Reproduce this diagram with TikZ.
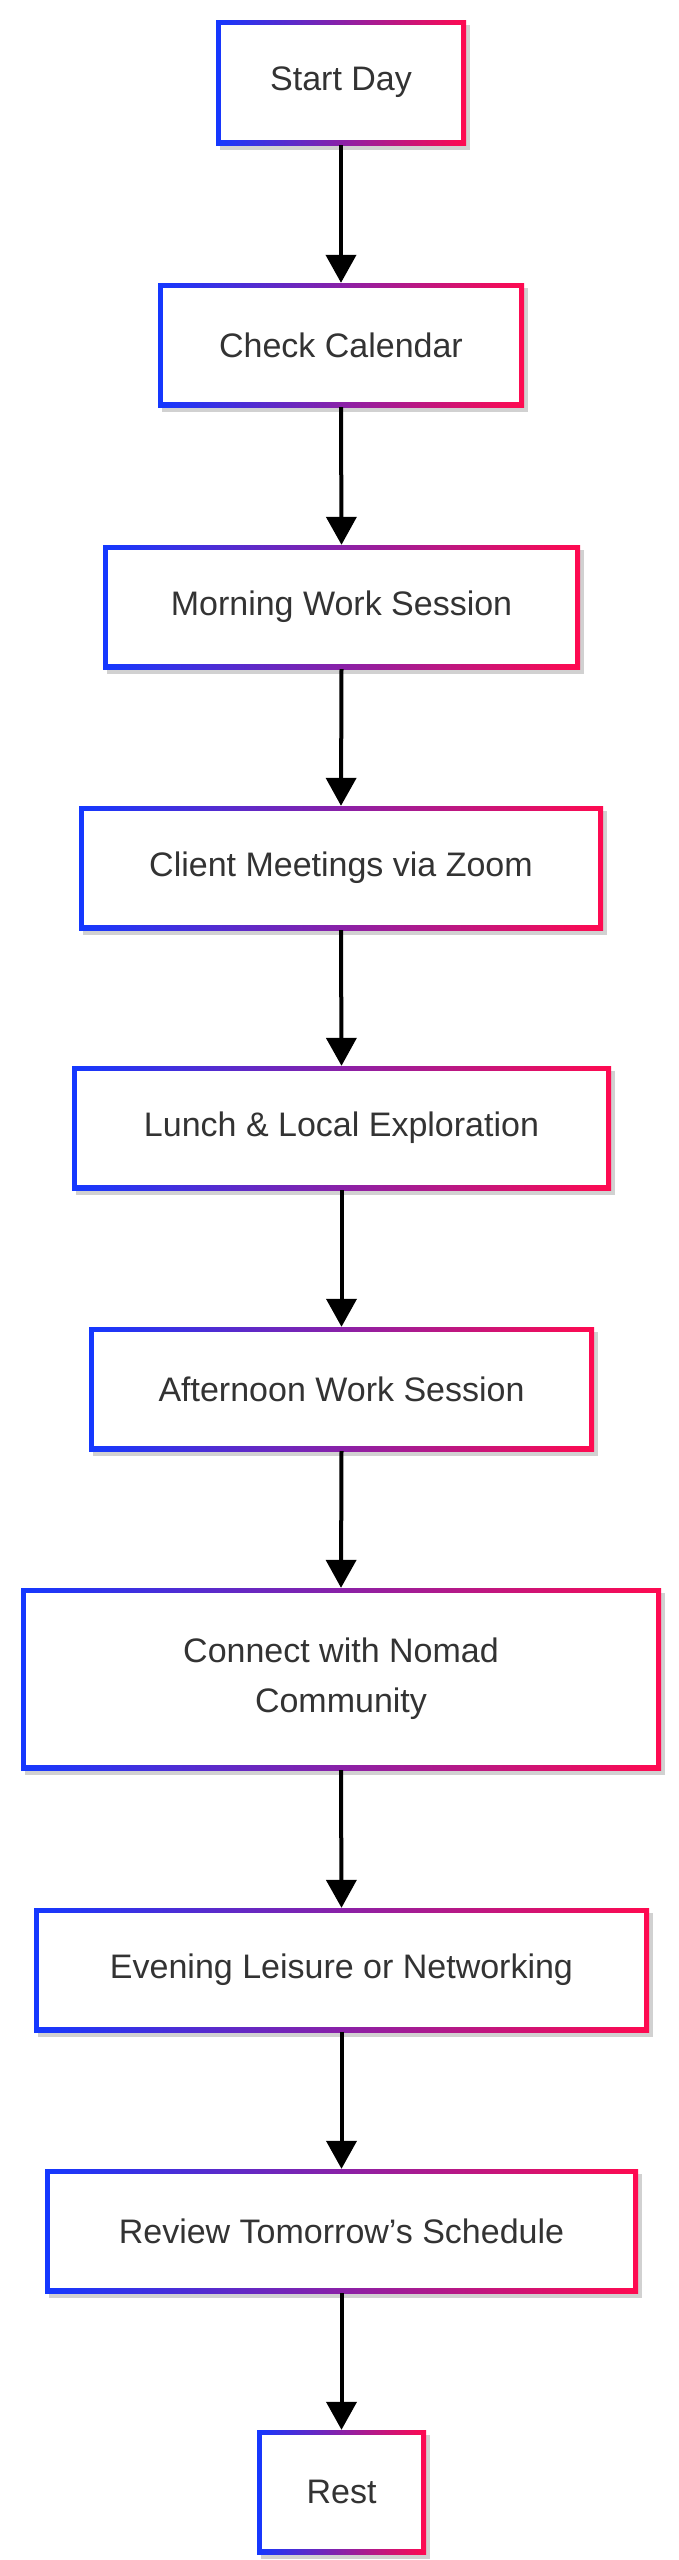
\documentclass[tikz,border=0pt]{standalone}
\usepackage{fontspec}
\setmainfont{Liberation Sans}
\usetikzlibrary{arrows.meta}
\definecolor{gblue}{HTML}{1438FF}
\definecolor{gred}{HTML}{FF0A50}
\definecolor{txt}{HTML}{333333}
\tikzset{
  lbl/.style={inner sep=0pt,text=txt,font=\fontsize{34}{50}\selectfont,align=center,draw=none},
  conn/.style={line width=4pt,-{Triangle[width=30pt,length=28pt]}}
}
\newcommand{\flowbox}[6]{%
  \fill[black!18] (#2+4,#3+5) rectangle (#4+4,#5+5);
  \shade[left color=gblue,right color=gred] (#2,#3) rectangle (#4,#5);
  \fill[white] (#2+5,#3+5) rectangle (#4-5,#5-5);
  \node[lbl,minimum width=#4-#2,minimum height=#5-#3] (#1) at ({(#2+#4)/2},{(#3+#5)/2}) {#6};
}
\begin{document}
\begin{tikzpicture}[x=1pt,y=-1pt]
\useasboundingbox (0,0) rectangle (678,2560);
\flowbox{a}{216}{20}{466}{145}{Start Day}
\flowbox{b}{158}{283}{524}{407}{Check Calendar}
\flowbox{c}{103}{545}{580}{669}{Morning Work Session}
\flowbox{d}{79}{806}{603}{930}{Client Meetings via Zoom}
\flowbox{e}{72}{1066}{611}{1190}{Lunch \& Local Exploration}
\flowbox{f}{89}{1327}{594}{1451}{Afternoon Work Session}
\flowbox{g}{21}{1588}{661}{1770}{Connect with Nomad\\Community}
\flowbox{h}{34}{1908}{649}{2032}{Evening Leisure or Networking}
\flowbox{i}{45}{2169}{638}{2293}{Review Tomorrow's Schedule}
\flowbox{j}{257}{2430}{426}{2554}{Rest}
\foreach \u/\v in {a/b,b/c,c/d,d/e,e/f,f/g,g/h,h/i,i/j}
  \draw[conn] (\u.south) -- (\v.north);
\end{tikzpicture}
\end{document}
